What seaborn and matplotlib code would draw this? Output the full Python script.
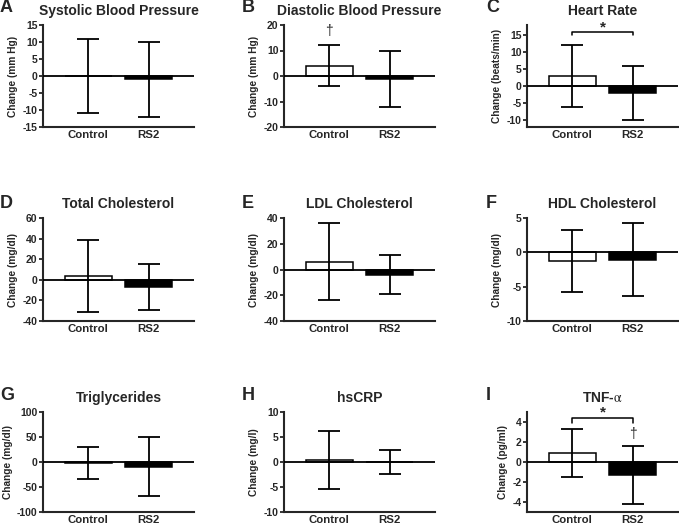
import matplotlib
matplotlib.use('Agg')
import matplotlib.pyplot as plt
import seaborn as sns
import pandas as pd

groups = ['Control', 'RS2']
letters = ['A', 'B', 'C', 'D', 'E', 'F', 'G', 'H', 'I']
titles = ['Systolic Blood Pressure', 'Diastolic Blood Pressure', 'Heart Rate',
          'Total Cholesterol', 'LDL Cholesterol', 'HDL Cholesterol',
          'Triglycerides', 'hsCRP', r'TNF-$\mathrm{\alpha}$']
ylabels = ['Change (mm Hg)', 'Change (mm Hg)', 'Change (beats/min)',
           'Change (mg/dl)', 'Change (mg/dl)', 'Change (mg/dl)',
           'Change (mg/dl)', 'Change (mg/l)', 'Change (pg/ml)']

# mean change and SD for each group
mean_control = [0, 4, 3, 4, 6, -1.3, -2, 0.5, 0.9]
mean_rs2 = [-1, -1, -2, -7, -4, -1.1, -9, 0, -1.3]
sd_control = [11, 8, 9, 35, 30, 4.5, 32, 5.8, 2.4]
sd_rs2 = [11, 11, 8, 22, 15, 5.3, 59, 2.4, 2.9]

ylims = [(-15, 15), (-20, 20), (-12, 18), (-40, 60), (-40, 40), (-10, 5),
         (-100, 100), (-10, 10), (-5, 5)]
ysteps = [5, 10, 5, 20, 20, 5, 50, 5, 2]
ytick_start = [-15, -20, -10, -40, -40, -10, -100, -10, -4]
ytick_end = [15, 20, 15, 60, 40, 5, 100, 10, 4]

sns.set_style('ticks')
plt.rcParams['font.family'] = ['Liberation Sans', 'DejaVu Sans']
plt.rcParams['mathtext.fontset'] = 'stix'

W, H = 679, 526
fig = plt.figure(figsize=(W / 100, H / 100), dpi=100)

col_x = [43, 284, 527]
row_top = [25, 218, 412]
row_bot = [127, 321, 512]
letter_x = [0, 242, 486]
letter_y = [8, 203, 396]
ax_w = 151

for i in range(9):
    r, c = divmod(i, 3)
    ax = fig.add_axes([col_x[c] / W, 1 - row_bot[r] / H, ax_w / W,
                       (row_bot[r] - row_top[r]) / H])
    df = pd.DataFrame({'group': groups, 'change': [mean_control[i], mean_rs2[i]]})
    sns.barplot(data=df, x='group', y='change', hue='group',
                palette=['white', 'black'], edgecolor='black', linewidth=1.1,
                width=0.77, legend=False, ax=ax, zorder=2)
    ax.errorbar([0, 1], [mean_control[i], mean_rs2[i]], yerr=[sd_control[i], sd_rs2[i]],
                fmt='none', ecolor='black', elinewidth=1.3, capsize=8, capthick=1.3, zorder=3)
    ax.axhline(0, color='black', lw=1.3, zorder=4)
    ax.set_xlim(-0.75, 1.75)
    ax.set_ylim(*ylims[i])
    ticks = list(range(ytick_start[i], ytick_end[i] + 1, ysteps[i]))
    ax.set_yticks(ticks)
    ax.set_yticklabels([str(t) for t in ticks], fontsize=7.5, fontweight='bold')
    ax.set_xticks([0, 1])
    ax.set_xticklabels(groups, fontsize=8.2, fontweight='bold')
    ax.tick_params(axis='x', length=0, pad=2.5)
    ax.tick_params(axis='y', length=3, width=1.3, pad=1)
    ax.set_xlabel('')
    ax.set_ylabel(ylabels[i], fontsize=7.3, fontweight='bold', labelpad=3)
    sns.despine(ax=ax)
    for s in ['left', 'bottom']:
        ax.spines[s].set_linewidth(1.5)
    ax.set_title(titles[i], fontsize=10, fontweight='bold', pad=7)
    fig.text(letter_x[c] / W, 1 - letter_y[r] / H, letters[i], fontsize=13,
             fontweight='bold', ha='left', va='center')

    # significance marks
    if letters[i] == 'B':
        ax.text(0, 17.6, '\u2020', ha='center', va='center', fontsize=10)
    if letters[i] == 'C':
        ax.plot([0, 0, 1, 1], [15, 16, 16, 15], color='black', lw=1.1, clip_on=False)
        ax.text(0.5, 17.3, '*', ha='center', va='center', fontsize=11, fontweight='bold')
    if letters[i] == 'I':
        ax.plot([0, 0, 1, 1], [3.9, 4.4, 4.4, 3.9], color='black', lw=1.1, clip_on=False)
        ax.text(0.5, 5.0, '*', ha='center', va='center', fontsize=11,
                fontweight='bold', clip_on=False)
        ax.text(1, 2.8, '\u2020', ha='center', va='center', fontsize=10)

fig.savefig('out.png', dpi=100)
